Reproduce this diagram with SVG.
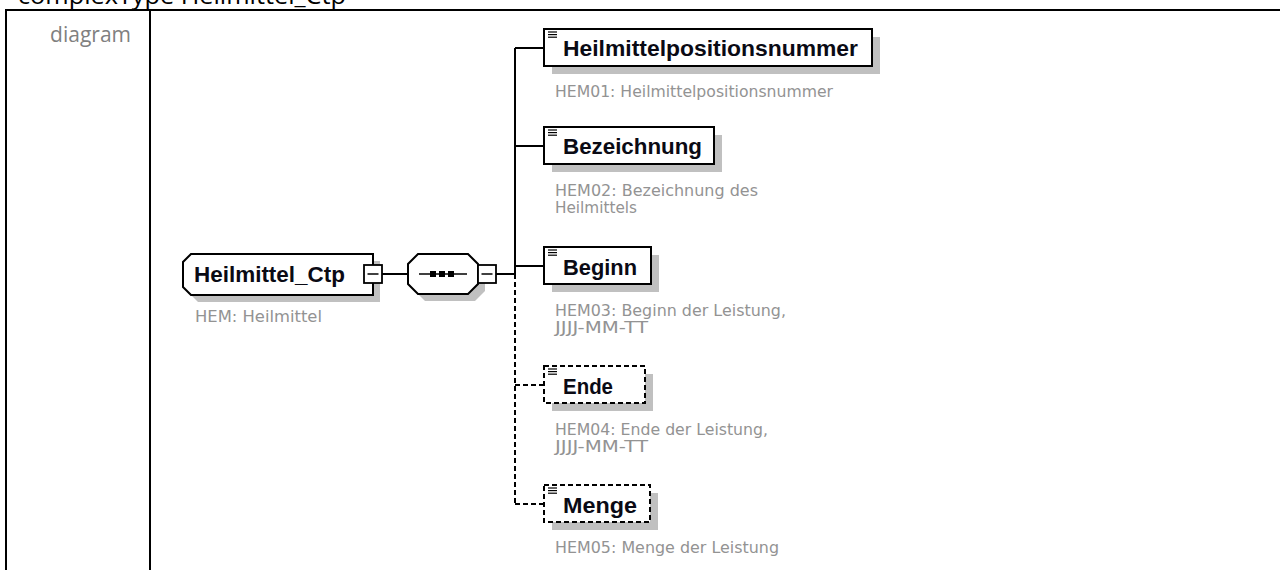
<svg xmlns="http://www.w3.org/2000/svg" width="1280" height="570" viewBox="0 0 1280 570">
<style>
.frame{stroke:#000;stroke-width:2;fill:none}
.box{fill:#fff;stroke:#000;stroke-width:2}
.dbox{fill:#fff;stroke:#000;stroke-width:2;stroke-dasharray:5 3}
.shadow{fill:#c0c0c0}
.name{font-family:"Liberation Sans",Arial,sans-serif;font-weight:bold;font-size:22px;fill:#0a0a14}
.desc{font-family:"DejaVu Sans",Verdana,sans-serif;font-size:15.5px;fill:#939393}
.conn{stroke:#000;stroke-width:2;fill:none}
.dconn{stroke:#000;stroke-width:2;fill:none;stroke-dasharray:5 3}
.icon{stroke:#000;stroke-width:1.2}
.label{font-family:"Open Sans","Liberation Sans",sans-serif;font-size:21px;fill:#808080}
.title{font-family:"Open Sans","Liberation Sans",sans-serif;font-size:24px;fill:#000}
</style>
<defs>
<g id="icon"><line class="icon" x1="0" y1="0" x2="9" y2="0"/><line class="icon" x1="0" y1="2.6" x2="9" y2="2.6"/><line class="icon" x1="0" y1="5.2" x2="9" y2="5.2"/></g>
<g id="exp"><rect x="0" y="0" width="18" height="18" fill="#fff" stroke="#000" stroke-width="1.8"/><line x1="3.5" y1="9" x2="14.5" y2="9" stroke="#000" stroke-width="1.5"/></g>
</defs>

<g id="frame">
<text class="title" x="18" y="4" textLength="328" lengthAdjust="spacingAndGlyphs">complexType Heilmittel_Ctp</text>
<line class="frame" x1="5" y1="10" x2="1280" y2="10"/>
<line class="frame" x1="6" y1="10" x2="6" y2="570"/>
<line class="frame" x1="150" y1="10" x2="150" y2="570"/>
<text class="label" x="131" y="42" text-anchor="end">diagram</text>
</g>

<g id="connectors">
<line class="conn" x1="382" y1="274" x2="408" y2="274"/>
<line class="conn" x1="496" y1="274" x2="515" y2="274"/>
<path class="conn" d="M515 48 V274"/>
<path class="dconn" d="M515 274 V504"/>
<path class="conn" d="M515 48 H544"/>
<path class="conn" d="M515 146 H544"/>
<path class="conn" d="M515 266 H544"/>
<path class="dconn" d="M515 385 H544"/>
<path class="dconn" d="M515 504 H544"/>
</g>

<g id="node-Heilmittel_Ctp">
<path class="shadow" d="M198 261 H380 V302 H198 L190 294 V269 Z"/>
<path class="box" d="M191 254 H373 V295 H191 L183 287 V262 Z"/>
<text class="name" x="194" y="282" textLength="151" lengthAdjust="spacingAndGlyphs">Heilmittel_Ctp</text>
<use href="#exp" x="364" y="265"/>
<text class="desc" x="195" y="322" textLength="127" lengthAdjust="spacingAndGlyphs">HEM: Heilmittel</text>
</g>

<g id="node-sequence">
<path class="shadow" d="M425 261 H475 L485 271 V291 L475 301 H425 L415 291 V271 Z"/>
<path class="box" d="M418 254 H468 L478 264 V284 L468 294 H418 L408 284 V264 Z"/>
<line x1="419" y1="274" x2="467" y2="274" stroke="#000" stroke-width="1.5"/>
<rect x="430" y="271" width="6" height="6" fill="#000"/>
<rect x="439" y="271" width="6" height="6" fill="#000"/>
<rect x="448" y="271" width="6" height="6" fill="#000"/>
<use href="#exp" x="478" y="265"/>
</g>

<g id="node-Heilmittelpositionsnummer">
<rect class="shadow" x="552" y="37" width="328" height="37"/>
<rect class="box" x="544" y="29" width="328" height="37"/>
<use href="#icon" x="548" y="32"/>
<text class="name" x="563" y="56" textLength="295" lengthAdjust="spacingAndGlyphs">Heilmittelpositionsnummer</text>
<text class="desc" x="555" y="97" textLength="278" lengthAdjust="spacingAndGlyphs">HEM01: Heilmittelpositionsnummer</text>
</g>

<g id="node-Bezeichnung">
<rect class="shadow" x="552" y="135" width="170" height="37"/>
<rect class="box" x="544" y="127" width="170" height="37"/>
<use href="#icon" x="548" y="130"/>
<text class="name" x="563" y="154" textLength="139" lengthAdjust="spacingAndGlyphs">Bezeichnung</text>
<text class="desc" x="555" y="196" textLength="203" lengthAdjust="spacingAndGlyphs">HEM02: Bezeichnung des</text>
<text class="desc" x="555" y="213" textLength="82" lengthAdjust="spacingAndGlyphs">Heilmittels</text>
</g>

<g id="node-Beginn">
<rect class="shadow" x="552" y="255" width="107" height="37"/>
<rect class="box" x="544" y="247" width="107" height="37"/>
<use href="#icon" x="548" y="250"/>
<text class="name" x="563" y="275" textLength="74" lengthAdjust="spacingAndGlyphs">Beginn</text>
<text class="desc" x="555" y="316" textLength="231" lengthAdjust="spacingAndGlyphs">HEM03: Beginn der Leistung,</text>
<text class="desc" x="555" y="333" textLength="93" lengthAdjust="spacingAndGlyphs">JJJJ-MM-TT</text>
</g>

<g id="node-Ende">
<rect class="shadow" x="552" y="374" width="101" height="37"/>
<rect class="dbox" x="544" y="366" width="101" height="37"/>
<use href="#icon" x="548" y="369"/>
<text class="name" x="563" y="394" textLength="50" lengthAdjust="spacingAndGlyphs">Ende</text>
<text class="desc" x="555" y="435" textLength="213" lengthAdjust="spacingAndGlyphs">HEM04: Ende der Leistung,</text>
<text class="desc" x="555" y="452" textLength="93" lengthAdjust="spacingAndGlyphs">JJJJ-MM-TT</text>
</g>

<g id="node-Menge">
<rect class="shadow" x="552" y="493" width="106" height="37"/>
<rect class="dbox" x="544" y="485" width="106" height="37"/>
<use href="#icon" x="548" y="488"/>
<text class="name" x="563" y="513" textLength="74" lengthAdjust="spacingAndGlyphs">Menge</text>
<text class="desc" x="555" y="553" textLength="224" lengthAdjust="spacingAndGlyphs">HEM05: Menge der Leistung</text>
</g>
</svg>
